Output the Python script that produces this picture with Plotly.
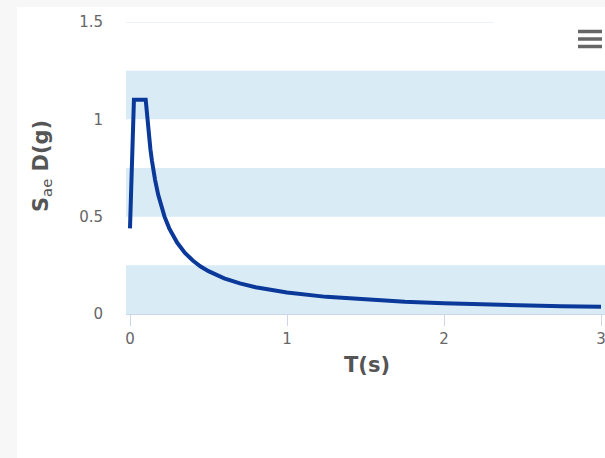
import plotly.graph_objects as go

# Period T (s) and spectral acceleration SaeD (g)
period_s = [0.0, 0.025, 0.1, 0.11, 0.12, 0.13, 0.14, 0.15, 0.16, 0.18, 0.2, 0.22, 0.25,
            0.3, 0.35, 0.4, 0.45, 0.5, 0.6, 0.7, 0.8, 0.9, 1.0, 1.25, 1.5, 1.75,
            2.0, 2.25, 2.5, 2.75, 3.0]
sae_g = [0.44, 1.1, 1.1, 1.0, 0.917, 0.846, 0.786, 0.733, 0.688, 0.611, 0.55, 0.5, 0.44,
         0.367, 0.314, 0.275, 0.244, 0.22, 0.183, 0.157, 0.1375, 0.122, 0.11, 0.088, 0.073, 0.063,
         0.055, 0.049, 0.044, 0.04, 0.037]

x_ticks = [0, 1, 2, 3]
y_ticks = [0, 0.5, 1, 1.5]
y_tick_text = ["0", "0.5", "1", "1.5"]
band_ranges = [(0, 0.25), (0.5, 0.75), (1.0, 1.25)]

W, H = 605, 458
L, R, T, B = 126, 0, 22, 144
pw, ph = W - L - R, H - T - B

def px_x(p):
    return (p - L) / pw

def px_y(p):
    return (H - B - p) / ph

FONT = "DejaVu Sans, Verdana, sans-serif"

fig = go.Figure()
fig.add_trace(go.Scatter(
    x=period_s, y=sae_g, mode="lines",
    line=dict(color="#0a399a", width=4),
    hoverinfo="skip", showlegend=False,
))

shapes = []
# white panel
shapes.append(dict(type="rect", xref="paper", yref="paper",
                   x0=px_x(17), x1=px_x(W + 5), y0=px_y(H + 5), y1=px_y(7),
                   fillcolor="white", line=dict(width=0), layer="below"))
for a, b in band_ranges:
    shapes.append(dict(type="rect", xref="paper", yref="y", x0=0, x1=1, y0=a, y1=b,
                       fillcolor="#d9ecf6", line=dict(width=0), layer="below"))
# top grid line at 1.5
shapes.append(dict(type="line", xref="paper", yref="y", x0=0, x1=px_x(494), y0=1.5, y1=1.5,
                   line=dict(color="#e3eff8", width=1.5), layer="below"))
# menu icon
for yy in [31.5, 39, 46.5]:
    shapes.append(dict(type="line", xref="paper", yref="paper",
                       x0=px_x(578), x1=px_x(602), y0=px_y(yy), y1=px_y(yy),
                       line=dict(color="#666666", width=3.5)))

fig.update_layout(
    width=W, height=H,
    margin=dict(l=L, r=R, t=T, b=B),
    paper_bgcolor="#f7f7f7",
    plot_bgcolor="rgba(0,0,0,0)",
    font=dict(family=FONT, color="#666666", size=15),
    shapes=shapes,
    xaxis=dict(range=[-4 / 157, 3 + 4 / 157], tickvals=x_ticks, ticktext=[str(v) for v in x_ticks],
               showgrid=False, zeroline=False, showline=True, linecolor="#ccd6eb", linewidth=1,
               ticks="outside", ticklen=11, tickcolor="#ccd6eb", ticklabelstandoff=0,
               ticklabeloverflow="allow",
               tickfont=dict(family=FONT, size=15, color="#666666"), fixedrange=True),
    yaxis=dict(range=[0, 1.5], tickvals=y_ticks, ticktext=y_tick_text,
               showgrid=False, zeroline=False, showline=False, ticks="",
               ticklabelstandoff=22, tickfont=dict(family=FONT, size=15, color="#666666"),
               fixedrange=True),
    annotations=[
        dict(text="<b>S</b><sub>ae</sub><b> D(g)</b>", xref="paper", yref="paper",
             x=px_x(42), y=px_y(166),
             xanchor="center", yanchor="middle", textangle=-90,
             showarrow=False, font=dict(family=FONT, size=21, color="#555555")),
        dict(text="<b>T(s)</b>", xref="paper", yref="paper", x=px_x(367), y=px_y(365),
             xanchor="center", yanchor="middle",
             showarrow=False, font=dict(family=FONT, size=21, color="#555555")),
    ],
)

fig.write_html(
    "out.html",
    config={"displayModeBar": False},
    post_script="document.body.style.margin='0';document.body.style.background='#f7f7f7';",
)
